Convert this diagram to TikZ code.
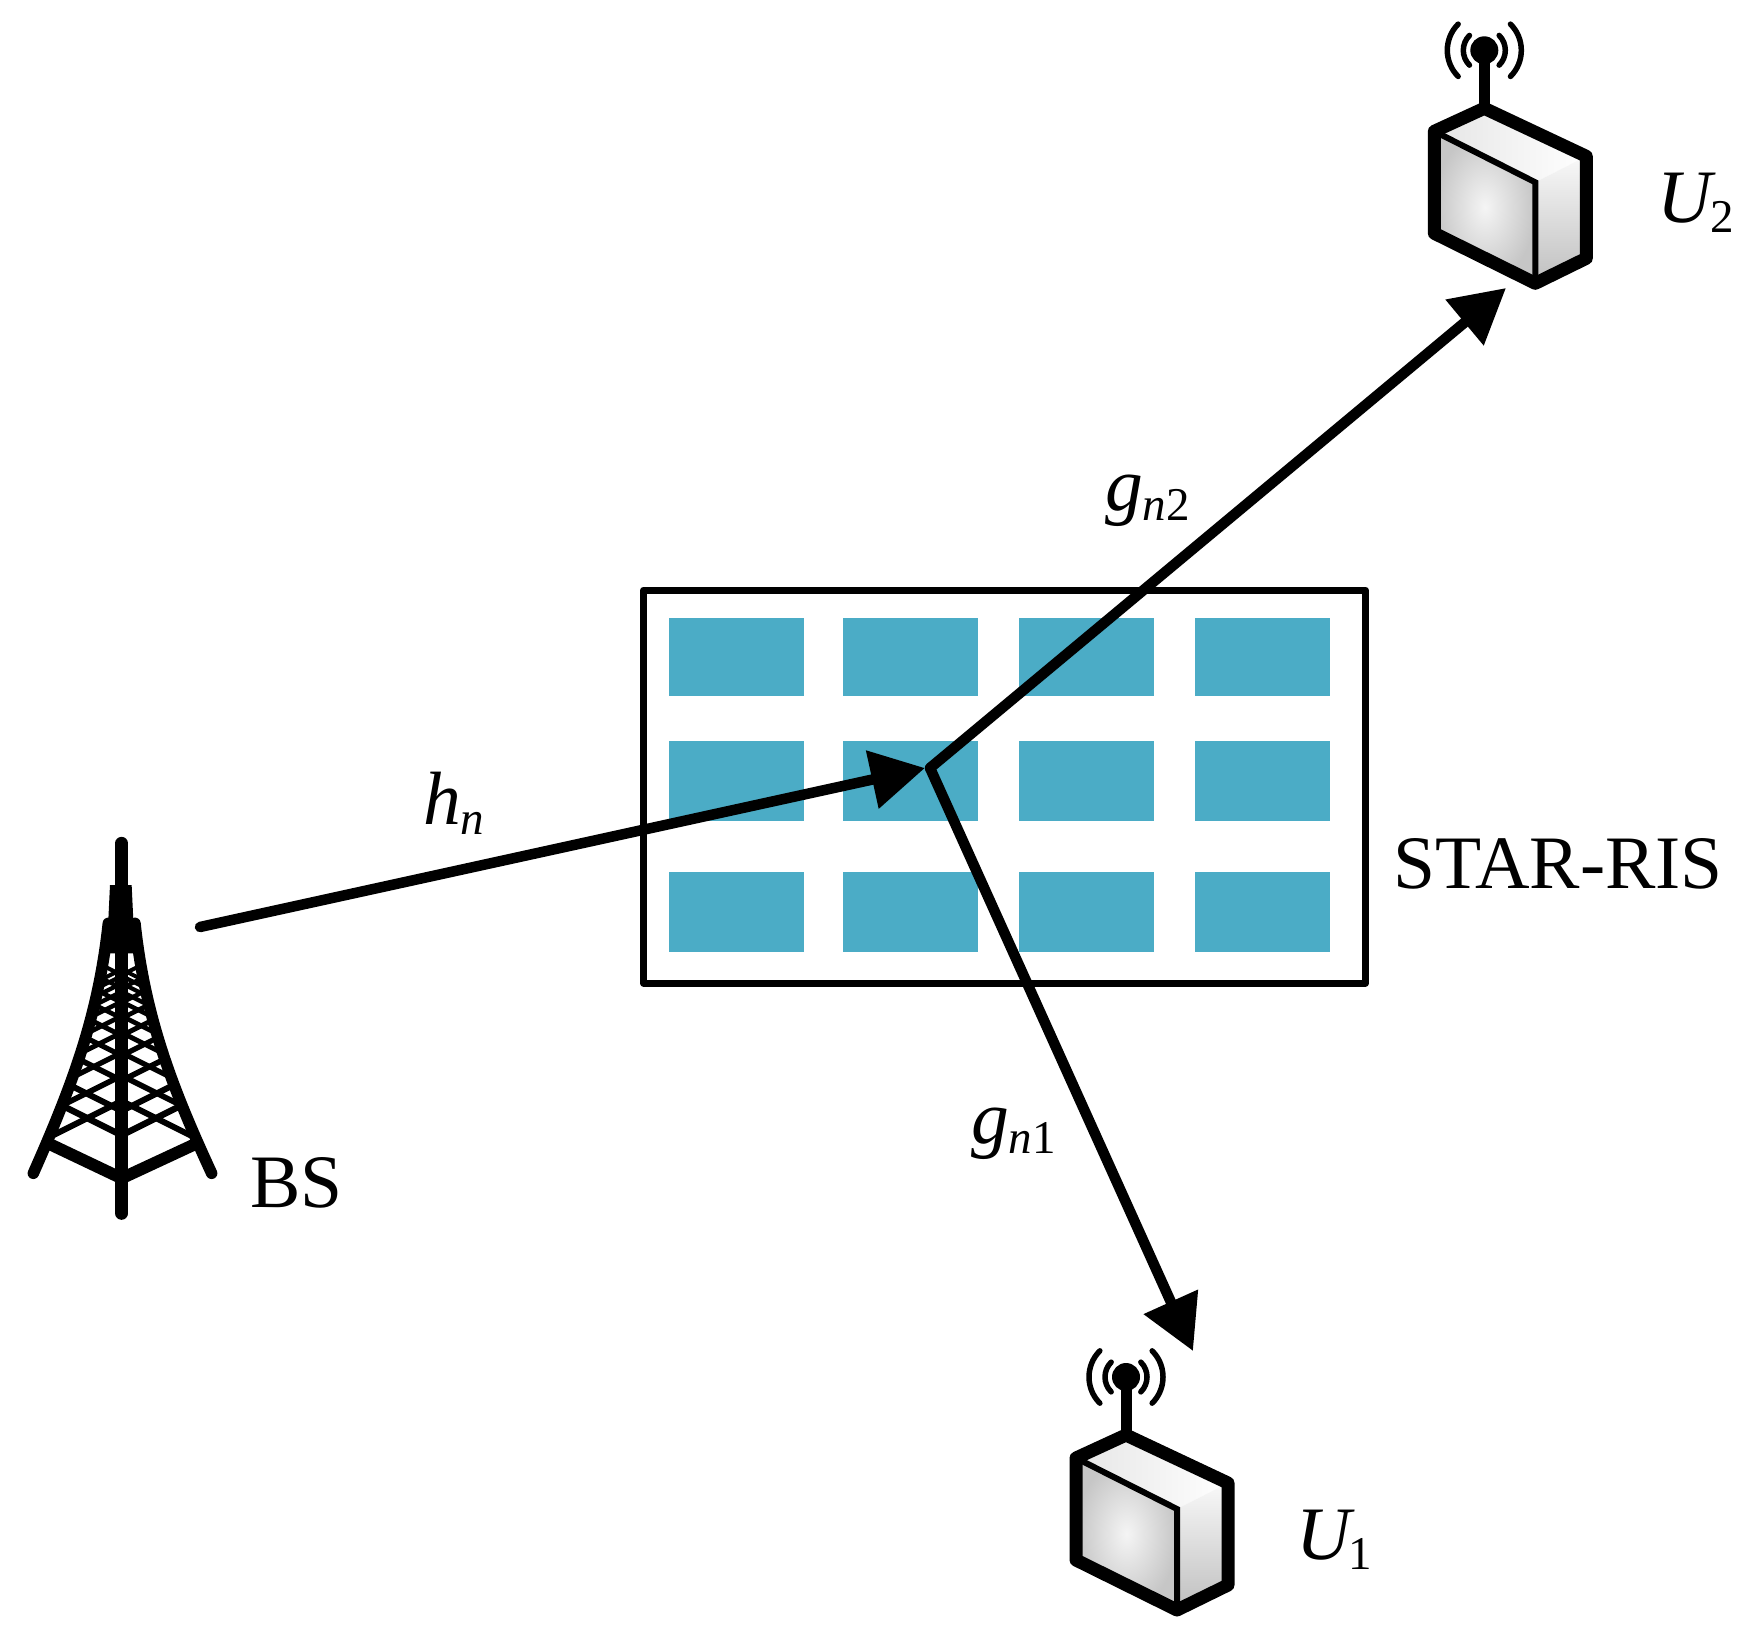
\documentclass[tikz,border=0pt]{standalone}
\usepackage{fontspec}
\setmainfont{Liberation Serif}
\usetikzlibrary{arrows.meta}
\definecolor{ColorCell}{HTML}{4BACC6}
\newcommand{\sublabel}[2]{\textit{#1}\raisebox{-10pt}{\fontsize{47}{50}\selectfont #2}}
\tikzset{
    biglabel/.style={font=\fontsize{75.5}{80}\selectfont, inner sep=0pt, anchor=base west},
    link/.style={line width=10.5pt, line cap=round, -{Triangle[length=54pt,width=57pt]}},
    pics/device/.style={code={
        \shade[left color=gray!20, right color=white] (0,0) -- (-50,23) -- (51,74) -- (102,48) -- cycle;
        \shade[inner color=gray!8, outer color=gray!45] (-50,23) -- (51,74) -- (51,175) -- (-50,125) -- cycle;
        \shade[top color=gray!5, bottom color=gray!50] (51,74) -- (102,48) -- (102,150) -- (51,175) -- cycle;
        \draw[line width=13pt, line join=round] (0,0) -- (-50,23) -- (-50,125) -- (51,175) -- (102,150) -- (102,48) -- cycle;
        \draw[line width=6pt] (-50,23) -- (51,74) -- (51,175);
        \draw[line width=11pt] (0,0) -- (0,-58);
        \fill (0,-58) circle (14);
        \foreach \r in {21,37} {
            \draw[line width=5.5pt, line cap=round] (0,-58) ++(-45:\r) arc[start angle=-45, end angle=45, radius=\r];
            \draw[line width=5.5pt, line cap=round] (0,-58) ++(135:\r) arc[start angle=135, end angle=225, radius=\r];
        }
    }}
}
\begin{document}
\begin{tikzpicture}[x=1pt, y=-1pt]
    \useasboundingbox (0,0) rectangle (1755,1637);
    % panel
    \foreach \yt/\yb in {618/696, 741/821, 872/952} {
        \foreach \xl/\xr in {669/804, 843/978, 1019/1154, 1195/1330} {
            \fill[ColorCell] (\xl,\yt) rectangle (\xr,\yb);
        }
    }
    \draw[line width=7pt, line join=round] (643.5,590) rectangle (1365.5,983);
    % tower
    \begin{scope}[shift={(0,810)}, x=0.3333pt, y=-0.3333pt]
        \begin{scope}
            \clip (325,340) .. controls (295,620) and (215,830) .. (100,1090) -- (635,1090)
                .. controls (515,830) and (435,620) .. (405,340) -- cycle;
            \foreach \c in {976,903,812,737,677,625,578,535,495} {
                \pgfmathsetmacro{\wd}{4+(\c-495)*0.005}
                \draw[line width=\wd pt] (365,\c) -- ++(-270,-135) (365,\c) -- ++(270,-135);
            }
            \foreach \c in {873,797,728,668,618,575,545,520,498,478} {
                \pgfmathsetmacro{\wd}{4+(\c-478)*0.005}
                \draw[line width=\wd pt] (365,\c) -- ++(-270,135) (365,\c) -- ++(270,135);
            }
        \end{scope}
        \fill (330,225) -- (395,225) -- (400,330) -- (415,335) -- (425,430) -- (305,430) -- (312,335) -- (325,330) -- cycle;
        \draw[line width=11.5pt, line cap=round] (325,340) .. controls (295,620) and (215,830) .. (100,1090);
        \draw[line width=11.5pt, line cap=round] (405,340) .. controls (435,620) and (515,830) .. (635,1090);
        \draw[line width=12pt] (140,998) -- (365,1105) -- (595,998);
        \draw[line width=13pt, line cap=round] (365,100) -- (365,1210);
    \end{scope}
    \pic (userone) at (1126,1435) {device};
    \pic (usertwo) at (1484.3,108.3) {device};
    % links
    \coordinate (bsout) at (200,927);
    \coordinate (hub) at (930,768);
    \coordinate (hubin) at (925,768);
    \coordinate (toone) at (1193,1351);
    \coordinate (totwo) at (1506,288);
    \draw[link] (bsout) -- (hubin);
    \draw[link] (hub) -- (totwo);
    \draw[link] (hub) -- (toone);
    % labels
    \node[biglabel] (bs) at (250,1207) {BS};
    \node[biglabel] (ris) at (1393,888) {STAR-RIS};
    \node[biglabel] (uone) at (1296,1559) {\sublabel{U\kern-2pt}{1}};
    \node[biglabel] (utwo) at (1657,223) {\sublabel{U\kern-1pt}{2}};
    \node[biglabel] (hn) at (423,824) {\sublabel{h}{\textit{n}}};
    \node[biglabel] (gone) at (971,1143) {\sublabel{g}{\textit{n}1}};
    \node[biglabel] (gtwo) at (1105,510) {\sublabel{g}{\textit{n}2}};
\end{tikzpicture}
\end{document}
